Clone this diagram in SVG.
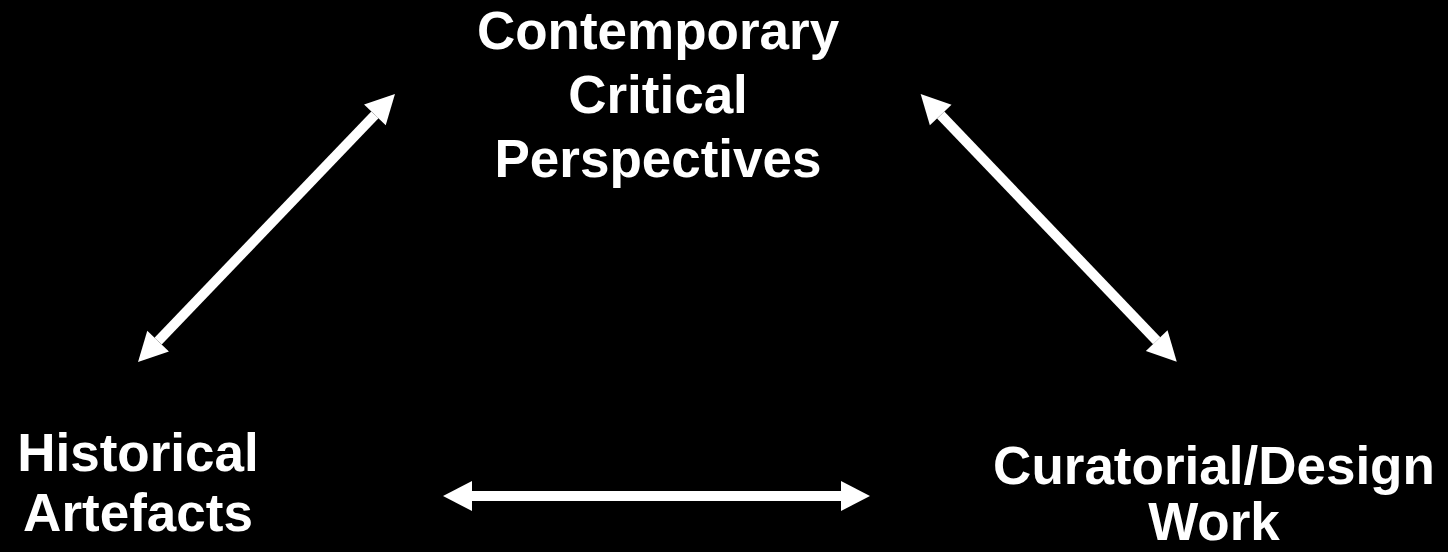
<svg xmlns="http://www.w3.org/2000/svg" width="1448" height="552" viewBox="0 0 1448 552">
  <style>
    .lbl { font-family: "Liberation Sans", Arial, sans-serif; font-weight: bold; font-size: 53px; fill: #ffffff; text-anchor: middle; }
    .conn { stroke: #ffffff; stroke-width: 10; fill: none; marker-start: url(#head); marker-end: url(#head); }
  </style>
  <defs>
    <marker id="head" markerUnits="userSpaceOnUse" orient="auto-start-reverse" refX="0" refY="0" markerWidth="32" markerHeight="32" viewBox="-1 -16 32 32" overflow="visible">
      <path d="M0,-15 L29,0 L0,15 Z" fill="#ffffff"/>
    </marker>
  </defs>
  <rect width="1448" height="552" fill="#000000"/>
  <g id="connectors">
    <line class="conn" x1="158.1" y1="341.1" x2="374.9" y2="114.9"/>
    <line class="conn" x1="940.7" y1="115" x2="1156.7" y2="340.7"/>
    <line class="conn" x1="472" y1="496" x2="841" y2="496"/>
  </g>
  <g id="node-contemporary">
    <text class="lbl" x="658" y="49">Contemporary</text>
    <text class="lbl" x="658" y="113">Critical</text>
    <text class="lbl" x="658" y="177">Perspectives</text>
  </g>
  <g id="node-historical">
    <text class="lbl" x="138" y="471">Historical</text>
    <text class="lbl" x="138" y="531">Artefacts</text>
  </g>
  <g id="node-curatorial">
    <text class="lbl" x="1214" y="484">Curatorial/Design</text>
    <text class="lbl" x="1214" y="540">Work</text>
  </g>
</svg>
